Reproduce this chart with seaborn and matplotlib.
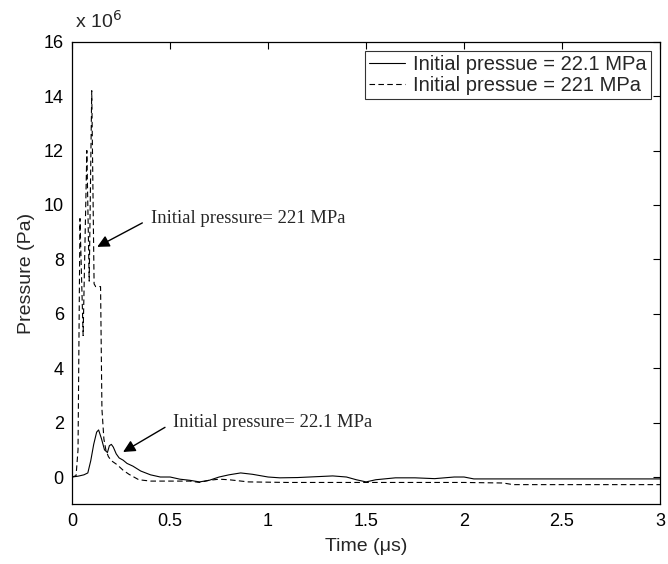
import numpy as np
import pandas as pd
import matplotlib
matplotlib.use('Agg')
import matplotlib.pyplot as plt
import seaborn as sns

# time in microseconds, pressure in units of 1e6 Pa
t_low = [0, 0.03, 0.06, 0.08, 0.095, 0.11, 0.125, 0.135, 0.15, 0.165, 0.18, 0.19,
         0.2, 0.21, 0.225, 0.24, 0.26, 0.28, 0.31, 0.35, 0.4, 0.45, 0.5, 0.55, 0.6,
         0.65, 0.7, 0.75, 0.8, 0.86, 0.92, 1.0, 1.06, 1.15, 1.27, 1.33, 1.4, 1.45,
         1.5, 1.55, 1.65, 1.75, 1.85, 1.95, 2.0, 2.05, 2.2, 2.5, 3.0]
p_low = [0, 0.03, 0.08, 0.15, 0.6, 1.2, 1.65, 1.73, 1.4, 1.0, 0.9, 1.15,
         1.2, 1.1, 0.85, 0.7, 0.62, 0.5, 0.4, 0.22, 0.08, 0.0, 0.0, -0.08, -0.12,
         -0.18, -0.12, 0.0, 0.08, 0.15, 0.1, 0.0, -0.03, -0.02, 0.02, 0.04, 0.0, -0.1,
         -0.18, -0.1, -0.03, -0.03, -0.06, 0.0, 0.0, -0.07, -0.07, -0.07, -0.07]

t_high = [0, 0.02, 0.03, 0.04, 0.056, 0.075, 0.087, 0.1, 0.112, 0.12, 0.145, 0.152,
          0.162, 0.172, 0.185, 0.2, 0.23, 0.26, 0.29, 0.34, 0.4, 0.5, 0.6, 0.65,
          0.7, 0.75, 0.8, 0.9, 1.1, 1.5, 2.0, 2.2, 2.25, 3.0]
p_high = [0, 0.05, 1.0, 9.5, 5.2, 12.0, 7.2, 14.2, 7.1, 7.0, 7.0, 2.5,
          1.4, 1.0, 0.75, 0.6, 0.45, 0.25, 0.1, -0.1, -0.15, -0.15, -0.15, -0.2,
          -0.12, -0.08, -0.1, -0.18, -0.2, -0.2, -0.2, -0.22, -0.28, -0.28]

labels = ['Initial pressue = 22.1 MPa', 'Initial pressue = 221 MPa']

sns.set_style('white')
plt.rcParams['font.family'] = ['Liberation Sans', 'DejaVu Sans']

fig = plt.figure(figsize=(6.68, 5.64), dpi=100)
ax = fig.add_axes([0.108, 0.106, 0.88, 0.82])

sns.lineplot(x=t_low, y=p_low, color='black', lw=0.8, label=labels[0], ax=ax)
sns.lineplot(x=t_high, y=p_high, color='black', lw=0.8, label=labels[1], ax=ax)
ax.lines[1].set_dashes([5, 3])

ax.set_xlim(0, 3)
ax.set_ylim(-1, 16)
ax.set_xticks(np.arange(0, 3.01, 0.5))
ax.set_xticklabels(['0', '0.5', '1', '1.5', '2', '2.5', '3'])
ax.set_yticks(np.arange(0, 17, 2))
ax.tick_params(direction='in', length=5, width=0.8, top=True, right=True,
               labelsize=13, colors='black', pad=6)
for s in ax.spines.values():
    s.set_color('black')
    s.set_linewidth(0.9)

ax.set_xlabel('Time (\u03bcs)', fontsize=14, labelpad=6)
ax.set_ylabel('Pressure (Pa)', fontsize=14, labelpad=6)
ax.text(0.005, 1.022, 'x 10$^6$', transform=ax.transAxes, fontsize=14,
        ha='left', va='bottom')

leg = ax.legend(loc='upper right', fontsize=14.5, frameon=True, fancybox=False,
                edgecolor='black', handlelength=1.8, borderaxespad=0.45,
                borderpad=0.2, labelspacing=0.1, handletextpad=0.4)
leg.get_frame().set_linewidth(0.8)

serif = ['Liberation Serif', 'DejaVu Serif']
ax.annotate('Initial pressure= 221 MPa', xy=(0.128, 8.46), xytext=(0.40, 9.5),
            fontsize=13.4, family=serif, va='center',
            arrowprops=dict(arrowstyle='-|>', color='black', lw=1,
                            mutation_scale=18, shrinkA=4, shrinkB=0,
                            relpos=(0, 0.5)))
ax.annotate('Initial pressure= 22.1 MPa', xy=(0.26, 0.92), xytext=(0.515, 2.0),
            fontsize=13.4, family=serif, va='center',
            arrowprops=dict(arrowstyle='-|>', color='black', lw=1,
                            mutation_scale=18, shrinkA=4, shrinkB=0,
                            relpos=(0, 0.5)))

fig.savefig('out.png', dpi=100)
